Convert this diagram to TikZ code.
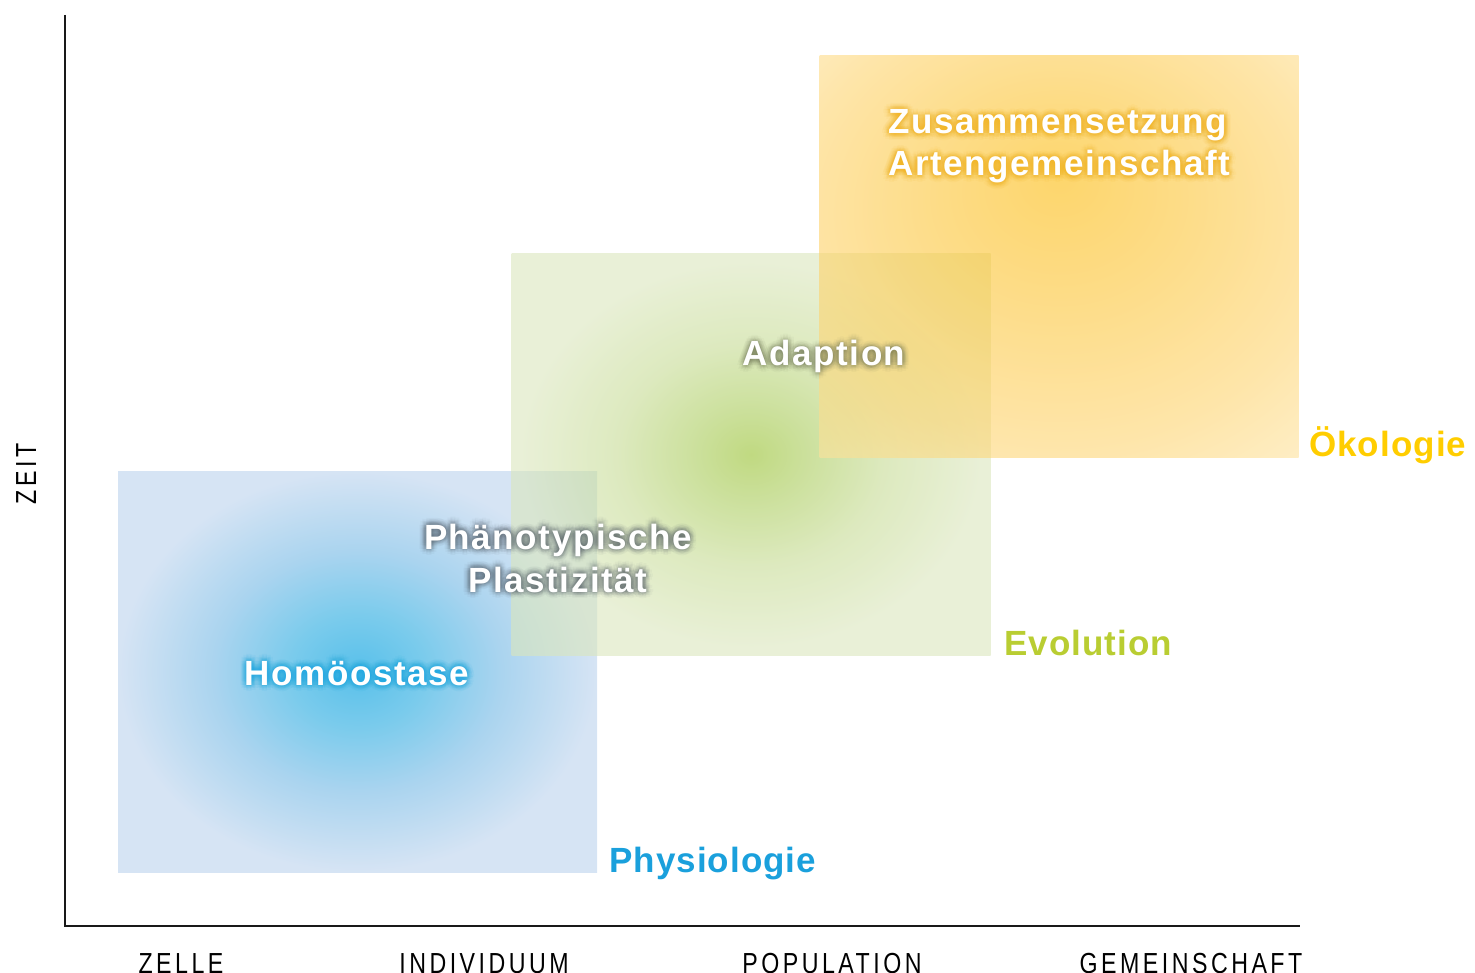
\documentclass[tikz,border=0pt]{standalone}
\usepackage{fontspec}
\setmainfont{Liberation Sans}
\newfontfamily\lblfont[LetterSpace=3]{Liberation Sans}
\newfontfamily\wfont[LetterSpace=4.5]{Liberation Sans}
\newfontfamily\axfont[FakeStretch=0.8,LetterSpace=12]{Liberation Sans}
\usetikzlibrary{calc}

\definecolor{bluein}{RGB}{88,192,234}
\definecolor{bluem1}{RGB}{122,203,236}
\definecolor{bluem2}{RGB}{170,212,239}
\definecolor{blueout}{RGB}{214,228,244}
\definecolor{greenin}{RGB}{150,192,45}
\definecolor{greenm1}{RGB}{170,204,92}
\definecolor{greenm2}{RGB}{198,219,148}
\definecolor{greenout}{RGB}{218,230,188}
\definecolor{yellowin}{RGB}{252,186,10}
\definecolor{yellowm1}{RGB}{252,196,52}
\definecolor{yellowm2}{RGB}{253,212,112}
\definecolor{yellowout}{RGB}{253,230,170}
\definecolor{physblue}{RGB}{26,160,220}
\definecolor{evogreen}{RGB}{185,205,50}
\definecolor{oekoyellow}{RGB}{255,205,0}
\definecolor{glowcyan}{RGB}{30,170,225}
\definecolor{glowgray}{RGB}{80,90,100}
\definecolor{glowolive}{RGB}{105,112,80}
\definecolor{glowgold}{RGB}{240,175,20}

\pgfdeclareradialshading{blueglow}{\pgfpoint{0bp}{0bp}}{color(0bp)=(bluein); color(7bp)=(bluem1); color(15bp)=(bluem2); color(25bp)=(blueout); color(50bp)=(blueout)}
\pgfdeclareradialshading{greenglow}{\pgfpoint{0bp}{0bp}}{color(0bp)=(greenin); color(6bp)=(greenm1); color(14bp)=(greenm2); color(24bp)=(greenout); color(50bp)=(greenout)}
\pgfdeclareradialshading{yellowglow}{\pgfpoint{0bp}{10bp}}{color(0bp)=(yellowin); color(12bp)=(yellowm1); color(28bp)=(yellowm2); color(40bp)=(yellowout); color(50bp)=(yellowout)}

\tikzset{
  box/.style={inner sep=0pt, outer sep=0pt, minimum width=479pt, minimum height=401pt, draw=none},
  axis/.style={line width=2pt, draw=black!90},
  axlbl/.style={font=\axfont\fontsize{29}{32}\selectfont, text=black, inner sep=0pt, anchor=base},
  catlbl/.style={font=\lblfont\bfseries\fontsize{35}{40}\selectfont, inner sep=0pt, anchor=base west},
  wlbl/.style={font=\wfont\bfseries\fontsize{35}{40}\selectfont, inner sep=0pt},
}

% #1 name, #2 position, #3 anchor, #4 glow colour, #5 opacity, #6 text
\newcommand\glowlbl[6]{%
  \foreach \rr [count=\ri] in {1.5,3,4.5,6.5}{%
    \foreach \aa in {0,30,...,330}{%
      \node[wlbl, anchor=#3, text=#4, text opacity=#5] (#1-\ri-\aa) at ($(#2)+(\aa:\rr)$) {#6};
    }%
  }%
  \node[wlbl, anchor=#3, text=white] (#1) at (#2) {#6};
}

\begin{document}
\begin{tikzpicture}[x=1pt,y=-1pt]
\useasboundingbox (0,0) rectangle (1475,973);

% coloured fields
\node[box, shade, shading=blueglow] (physbox) at (357.5,671.5) {};
\node[box, shade, shading=greenglow, fill opacity=0.6] (evobox) at (751,454.5) {};
\node[box, shade, shading=yellowglow, fill opacity=0.6] (oekobox) at (1059,256.5) {};

% axes
\coordinate (ytop) at (65,15);
\coordinate (origin) at (65,926);
\coordinate (xend) at (1300,926);
\draw[axis] (ytop) -- (origin) -- (xend);

% axis labels
\node[axlbl, rotate=90] (zeit) at (36,474) {ZEIT};
\node[axlbl] (zelle) at (181,973) {ZELLE};
\node[axlbl] (individuum) at (484,973) {INDIVIDUUM};
\node[axlbl] (population) at (832,973) {POPULATION};
\node[axlbl] (gemeinschaft) at (1191,973) {GEMEINSCHAFT};

% category labels
\node[catlbl, text=physblue] (physiologie) at (609,872) {Physiologie};
\node[catlbl, text=evogreen] (evolution) at (1004,655) {Evolution};
\node[catlbl, text=oekoyellow] (oekologie) at (1309,456) {Ökologie};

% glowing labels
\coordinate (phom) at (357,685);
\coordinate (pphae) at (558,549);
\coordinate (ppla) at (558,592);
\coordinate (pada) at (824,366);
\coordinate (pzus) at (888,134);
\coordinate (part) at (888,176);
\glowlbl{homoeostase}{phom}{base}{glowcyan}{0.065}{Homöostase}
\glowlbl{phaeno}{pphae}{base}{glowgray}{0.045}{Phänotypische}
\glowlbl{plasti}{ppla}{base}{glowgray}{0.045}{Plastizität}
\glowlbl{adaption}{pada}{base}{glowolive}{0.04}{Adaption}
\glowlbl{zusammen}{pzus}{base west}{glowgold}{0.055}{Zusammensetzung}
\glowlbl{arten}{part}{base west}{glowgold}{0.055}{Artengemeinschaft}
\end{tikzpicture}
\end{document}
